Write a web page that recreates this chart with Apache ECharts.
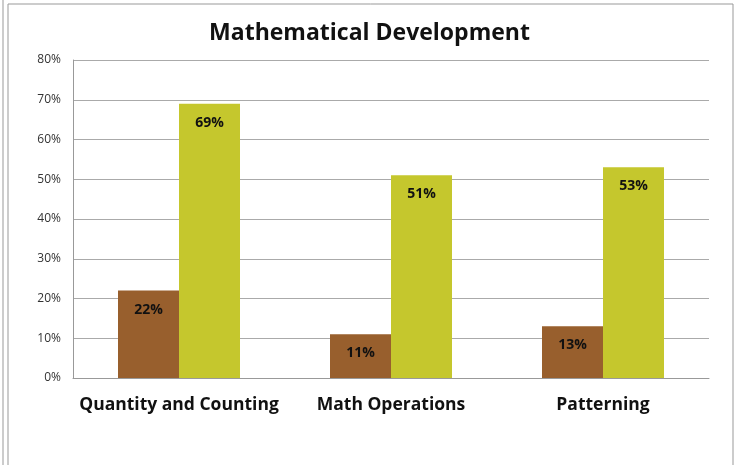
<!DOCTYPE html>
<html>
<head>
<meta charset="utf-8">
<script src="https://cdn.jsdelivr.net/npm/echarts@6/dist/echarts.min.js"></script>
<style>
html,body{margin:0;padding:0;background:#fff;}
#chart{width:739px;height:465px;}
</style>
</head>
<body>
<div id="chart"></div>
<script>
const categories = ['Quantity and Counting', 'Math Operations', 'Patterning'];
const seriesA = [22, 11, 13];
const seriesB = [69, 51, 53];
const yTicks = [0, 10, 20, 30, 40, 50, 60, 70, 80];

const chart = echarts.init(document.getElementById('chart'));
const labelStyle = {
  show: true,
  position: 'insideTop',
  distance: 12,
  formatter: p => p.value + '%',
  color: '#111',
  fontWeight: 'bold',
  fontSize: 14,
  fontFamily: 'Open Sans'
};
chart.setOption({
  animation: false,
  backgroundColor: '#fff',
  title: {
    text: 'Mathematical Development',
    left: 'center',
    top: 17,
    textStyle: {fontSize: 23, fontWeight: 'bold', color: '#111', fontFamily: 'Open Sans'}
  },
  graphic: [
    {type: 'line', shape: {x1: 3, y1: 0, x2: 3, y2: 465}, style: {stroke: '#999', lineWidth: 1}},
    {type: 'line', shape: {x1: 8, y1: 4, x2: 8, y2: 465}, style: {stroke: '#999', lineWidth: 1}},
    {type: 'line', shape: {x1: 8, y1: 4, x2: 733, y2: 4}, style: {stroke: '#999', lineWidth: 1}},
    {type: 'line', shape: {x1: 733, y1: 4, x2: 733, y2: 465}, style: {stroke: '#999', lineWidth: 1}}
  ],
  grid: {left: 73, right: 30, top: 60, bottom: 87, containLabel: false},
  xAxis: {
    type: 'category',
    data: categories,
    axisLine: {lineStyle: {color: '#999'}},
    axisTick: {show: false},
    axisLabel: {fontSize: 17.5, fontWeight: 'bold', color: '#111', margin: 18, fontFamily: 'Open Sans', interval: 0}
  },
  yAxis: {
    type: 'value',
    min: yTicks[0],
    max: yTicks[yTicks.length - 1],
    interval: 10,
    axisLine: {show: true, lineStyle: {color: '#999'}},
    axisTick: {show: false},
    splitLine: {lineStyle: {color: '#aaa'}},
    axisLabel: {formatter: v => v + '%', fontSize: 12, color: '#333', margin: 12, fontFamily: 'Open Sans'}
  },
  series: [
    {
      type: 'bar', data: seriesA, barWidth: 61, barGap: '0%',
      itemStyle: {color: '#985F2D'}, label: labelStyle
    },
    {
      type: 'bar', data: seriesB, barWidth: 61,
      itemStyle: {color: '#C5C72D'}, label: labelStyle
    }
  ]
});
</script>
</body>
</html>
